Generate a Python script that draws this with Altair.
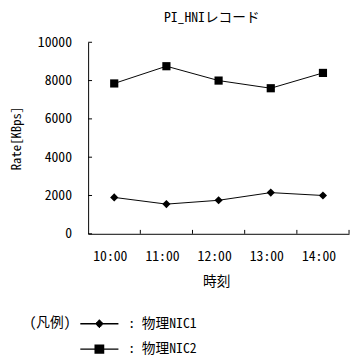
import altair as alt
import pandas as pd

times = ["10:00", "11:00", "12:00", "13:00", "14:00"]
series_names = ["物理NIC1", "物理NIC2"]
nic1 = [1900, 1550, 1750, 2150, 2000]
nic2 = [7850, 8750, 8000, 7600, 8400]
y_ticks = [0, 2000, 4000, 6000, 8000, 10000]

rows = []
for t, v in zip(times, nic1):
    rows.append({"time": t, "rate": v, "series": series_names[0]})
for t, v in zip(times, nic2):
    rows.append({"time": t, "rate": v, "series": series_names[1]})
df = pd.DataFrame(rows)
df_yt = pd.DataFrame({"rate": y_ticks})
df_xt = pd.DataFrame({"time": times})

FONT = "Noto Sans Mono CJK JP, Noto Sans CJK JP, sans-serif"

x_scale = alt.Scale(type="band", paddingInner=0, paddingOuter=0, domain=times)
x_axis = alt.Axis(
    title="時刻",
    ticks=False,
    labelPadding=16,
    labelOffset=-4,
    labelAngle=0,
    titleX=131,
    titleY=49,
    titleBaseline="middle",
)
x_enc = alt.X("time:O", sort=times, scale=x_scale, axis=x_axis)

y_scale = alt.Scale(domain=[0, 10000], nice=False)
y_axis = alt.Axis(
    title="Rate[KBps]",
    values=y_ticks,
    format="d",
    ticks=False,
    labelPadding=17,
    grid=False,
    titleAngle=270,
    titleX=-66,
    titleY=98,
    titleAlign="center",
    titleFontSize=13,
)
y_enc = alt.Y("rate:Q", scale=y_scale, axis=y_axis)

base = alt.Chart(df)

line = base.mark_line(color="black", strokeWidth=1).encode(
    x=x_enc, y=y_enc, detail="series:N"
)

points = base.mark_point(filled=True, color="black", size=70, opacity=1).encode(
    x=x_enc,
    y=y_enc,
    shape=alt.Shape(
        "series:N",
        scale=alt.Scale(domain=series_names, range=["diamond", "square"]),
        legend=None,
    ),
)

ytick_rules = alt.Chart(df_yt).mark_rule(color="black", strokeWidth=1).encode(
    y=y_enc,
    x=alt.value(0),
    x2=alt.value(4),
)
xtick_rules = alt.Chart(df_xt).mark_rule(color="black", strokeWidth=1).encode(
    x=alt.X("time:O", sort=times, scale=x_scale, bandPosition=1, axis=x_axis),
    y=alt.value(196),
    y2=alt.value(192),
)


# legend glyphs: a line with a marker drawn as stroked hatch lines
def _diamond_path():
    parts = ["M-1,0H2.9"]
    for i in range(-4, 5):
        yy = i * 0.09
        half = 0.42 - abs(yy)
        parts.append(f"M{0.95 - half:.3f},{yy:.3f}H{0.95 + half:.3f}")
    return "".join(parts)


def _square_path():
    parts = ["M-1,0H2.9"]
    for i in range(-4, 5):
        yy = i * 0.1
        parts.append(f"M0.45,{yy:.3f}H1.45")
    return "".join(parts)


legend_shapes = [_diamond_path(), _square_path()]

legend_layer = base.mark_point(
    filled=False, color="black", strokeWidth=1.5, size=0
).encode(
    x=x_enc,
    y=y_enc,
    shape=alt.Shape(
        "series:N",
        scale=alt.Scale(domain=series_names, range=legend_shapes),
        legend=alt.Legend(
            title="(凡例)",
            orient="none",
            legendX=-60,
            legendY=277,
            direction="vertical",
            titleOrient="left",
            titlePadding=9,
            titleAnchor="start",
            titleBaseline="line-top",
            titleLineHeight=20,
            titleFontWeight="normal",
            titleFontSize=14,
            titleFont=FONT,
            titleColor="black",
            labelFont=FONT,
            labelFontSize=14,
            labelColor="black",
            labelOffset=28,
            labelExpr="': ' + datum.label",
            symbolSize=400,
            symbolStrokeWidth=1.5,
            symbolStrokeColor="black",
            symbolOpacity=1,
            rowPadding=8,
            padding=0,
        ),
    ),
)

chart = (
    alt.layer(line, points, ytick_rules, xtick_rules, legend_layer)
    .resolve_scale(shape="independent")
    .properties(
        width=267,
        height=196,
        background="white",
        autosize=alt.AutoSizeParams(type="none"),
        padding={"left": 82, "top": 31, "right": 2, "bottom": 122},
        title=alt.TitleParams(
            "PI_HNIレコード",
            anchor="middle",
            frame="group",
            fontSize=14,
            fontWeight="normal",
            font=FONT,
            color="black",
            offset=11,
            dx=-7,
        ),
    )
    .configure_view(stroke=None)
    .configure_axis(
        domainColor="black",
        labelColor="black",
        titleColor="black",
        labelFont=FONT,
        titleFont=FONT,
        labelFontSize=14,
        titleFontSize=14,
        titleFontWeight="normal",
        domainWidth=1,
    )
)

chart.save("out.html", embed_options={"renderer": "svg", "actions": False})
